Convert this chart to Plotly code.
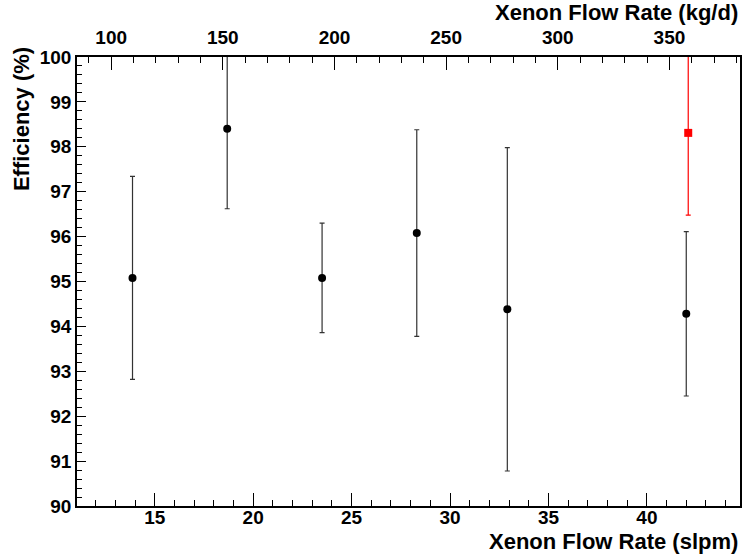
import plotly.graph_objects as go

# measured flow rates (slpm) and efficiencies (%)
flow_slpm = [13.87, 18.68, 23.50, 28.31, 32.91, 42.00]
efficiency = [95.08, 98.40, 95.08, 96.08, 94.38, 94.28]
eff_err = [2.26, 1.78, 1.22, 2.30, 3.60, 1.83]

# highlighted point (red)
red_flow = [42.10]
red_eff = [98.31]
red_err = [1.83]

FONT = "Liberation Sans"

fig = go.Figure()

fig.add_trace(go.Scatter(
    x=flow_slpm, y=efficiency, mode="markers",
    marker=dict(symbol="circle", size=8, color="black"),
    error_y=dict(type="data", array=eff_err, color="#333333", thickness=1.2, width=2.5),
    showlegend=False,
))
fig.add_trace(go.Scatter(
    x=red_flow, y=red_eff, mode="markers",
    marker=dict(symbol="square", size=8, color="#ff0000"),
    error_y=dict(type="data", array=red_err, color="#ff0000", thickness=1.2, width=2.5),
    showlegend=False,
))
# invisible trace so the top axis is drawn
fig.add_trace(go.Scatter(x=[200], y=[95], xaxis="x2", mode="markers",
                         marker=dict(opacity=0), showlegend=False, hoverinfo="skip"))

tick_font = dict(family=FONT, size=19, color="black", weight="bold")
title_font = dict(family=FONT, size=22, color="black", weight="bold")

fig.update_layout(
    width=744, height=558,
    margin=dict(l=77, r=2, t=57, b=52),
    paper_bgcolor="white", plot_bgcolor="white",
    xaxis=dict(
        range=[11.05, 44.73], dtick=5, tick0=0,
        ticks="inside", ticklen=13, tickwidth=1, tickcolor="black",
        minor=dict(dtick=1, ticks="inside", ticklen=6, tickcolor="black"),
        showline=True, linecolor="black", linewidth=1.5, mirror=False,
        showgrid=False, zeroline=False, tickfont=tick_font,
        ticklabelstandoff=-7,
    ),
    xaxis2=dict(
        overlaying="x", side="top",
        range=[84.7, 381.6], dtick=50, tick0=0,
        ticks="inside", ticklen=13, tickwidth=1, tickcolor="black",
        minor=dict(dtick=10, ticks="inside", ticklen=6, tickcolor="black"),
        showline=True, linecolor="black", linewidth=1.5,
        showgrid=False, zeroline=False, tickfont=tick_font,
        ticklabelstandoff=4,
    ),
    yaxis=dict(
        range=[90, 100], dtick=1, tick0=0,
        ticks="inside", ticklen=9, tickwidth=1, tickcolor="black",
        minor=dict(dtick=0.2, ticks="inside", ticklen=5, tickcolor="black"),
        showline=True, linecolor="black", linewidth=1.5, mirror=True,
        showgrid=False, zeroline=False, tickfont=tick_font,
    ),
    annotations=[
        dict(text="Xenon Flow Rate (slpm)", xref="paper", yref="paper",
             x=1.0, y=-0.078, xanchor="right", yanchor="middle", showarrow=False,
             font=title_font),
        dict(text="Xenon Flow Rate (kg/d)", xref="paper", yref="paper",
             x=1.0, y=1.100, xanchor="right", yanchor="middle", showarrow=False,
             font=title_font),
        dict(text="Efficiency (%)", xref="paper", yref="paper",
             x=-0.0826, y=1.027, xanchor="center", yanchor="top", textangle=-90,
             showarrow=False, font=title_font),
    ],
)

# the page's default body margin would shift the figure by 8px
fig.write_html("out.html", config={"displayModeBar": False},
               post_script="document.body.style.margin='0px';")
